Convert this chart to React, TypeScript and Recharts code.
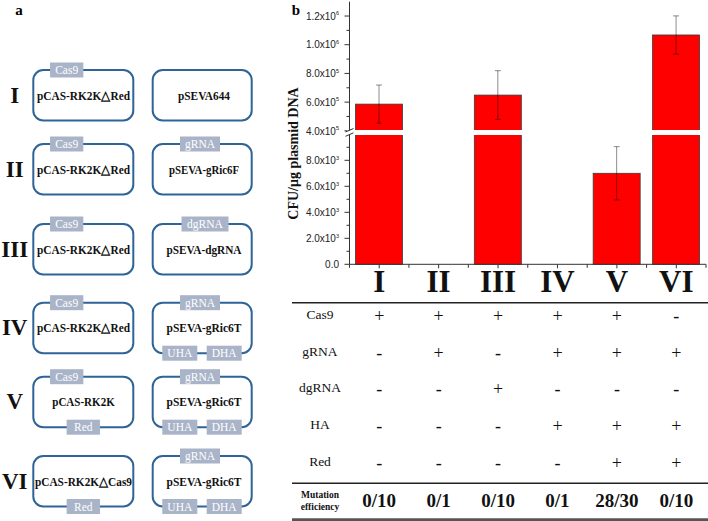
import React from 'react';
import { BarChart, Bar, XAxis, YAxis, ErrorBar } from 'recharts';

const SERIF = '"Liberation Serif", "Times New Roman", serif';
const SANS = '"Liberation Sans", Arial, sans-serif';

// ---- panel b data ----
const categories = ['I', 'II', 'III', 'IV', 'V', 'VI'];
const cfu = [5.86e5, 0, 6.49e5, 0, 7.0e3, 1.068e6];
const cfuError = [1.33e5, null, 1.7e5, null, 2.05e3, 1.33e5];

const cas9 = ['+', '+', '+', '+', '+', '-'];
const gRNA = ['-', '+', '-', '+', '+', '+'];
const dgRNA = ['-', '-', '+', '-', '-', '-'];
const homologyArms = ['-', '-', '-', '+', '+', '+'];
const redGenes = ['-', '-', '-', '-', '+', '+'];
const mutationEfficiency = ['0/10', '0/1', '0/10', '0/1', '28/30', '0/10'];

const tableRowNames = ['Cas9', 'gRNA', 'dgRNA', 'HA', 'Red'];
const tableRows = [cas9, gRNA, dgRNA, homologyArms, redGenes];

const yMajorTicks = [0, 2e3, 4e3, 6e3, 8e3, 4e5, 6e5, 8e5, 1e6, 1.2e6];
const yMajorLabels = [
  ['0.0', ''], ['2.0x10', '3'], ['4.0x10', '3'], ['6.0x10', '3'], ['8.0x10', '3'],
  ['4.0x10', '5'], ['6.0x10', '5'], ['8.0x10', '5'], ['1.0x10', '6'], ['1.2x10', '6'],
];
const yMinorTicks = [1e3, 3e3, 5e3, 7e3, 9e3, 5e5, 7e5, 9e5, 1.1e6];

// ---- panel a data ----
const plasmidNumerals = ['I', 'II', 'III', 'IV', 'V', 'VI'];
const leftPlasmids = ['pCAS-RK2K△Red', 'pCAS-RK2K△Red', 'pCAS-RK2K△Red', 'pCAS-RK2K△Red', 'pCAS-RK2K', 'pCAS-RK2K△Cas9'];
const leftTopTags = ['Cas9', 'Cas9', 'Cas9', 'Cas9', 'Cas9', null];
const leftBottomTags = [null, null, null, null, 'Red', 'Red'];
const rightPlasmids = ['pSEVA644', 'pSEVA-gRic6F', 'pSEVA-dgRNA', 'pSEVA-gRic6T', 'pSEVA-gRic6T', 'pSEVA-gRic6T'];
const rightTopTags = [null, 'gRNA', 'dgRNA', 'gRNA', 'gRNA', 'gRNA'];
const rightHomology = [false, false, false, true, true, true];

// rendered widths of the plasmid names in the figure
const labelWidths: Record<string, number> = {
  'pCAS-RK2K△Red': 93,
  'pCAS-RK2K': 62.5,
  'pCAS-RK2K△Cas9': 97,
  pSEVA644: 52,
  'pSEVA-gRic6F': 70,
  'pSEVA-dgRNA': 75,
  'pSEVA-gRic6T': 75,
};

// ---- broken y scale ----
const LOWER_MAX = 1e4;
const UPPER_MIN = 4e5;
const UPPER_MAX = 1.3e6;
const LOWER_SPAN = 130;
const UPPER_START = 133.5;
const UPPER_SPAN = 129.1;
const GAP_LO = 129.3;
const GAP_HI = 134.3;
const Y_MAX = UPPER_START + UPPER_SPAN;

function toDisplay(v: number) {
  if (v <= LOWER_MAX) return (v / LOWER_MAX) * LOWER_SPAN;
  return UPPER_START + ((v - UPPER_MIN) / (UPPER_MAX - UPPER_MIN)) * UPPER_SPAN;
}

const chartData = categories.map((name, i) => {
  const v = cfu[i];
  const e = cfuError[i];
  const d = toDisplay(v);
  return {
    name,
    display: d,
    err: e == null ? null : [d - toDisplay(v - e), toDisplay(v + e) - d],
  };
});

const majorDisplay = yMajorTicks.map(toDisplay);
const yTicks = [...majorDisplay, ...yMinorTicks.map(toDisplay)].sort((a, b) => a - b);

const CHART_LEFT = 260;
const CHART_W = 448;
const CHART_H = 521;
const Y_AXIS_W = 89.5;
const X_AXIS_H = 256.7;
const MARGIN = { top: 1.7, right: 2, left: 0, bottom: 0 };
const BAND = (CHART_W - Y_AXIS_W - MARGIN.right) / categories.length;

function BrokenBar(props: any) {
  const { x, y, width, height, payload } = props;
  if (!height || height <= 0) return null;
  const ppu = height / payload.display;
  const bottom = y + height;
  return (
    <g>
      <rect x={x} y={y} width={width} height={height} fill="#ff0000" stroke="#3a3a3a" strokeWidth={0.8} />
      {payload.display > GAP_HI && (
        <rect x={x - 1} y={bottom - GAP_HI * ppu} width={width + 2} height={(GAP_HI - GAP_LO) * ppu} fill="#ffffff" />
      )}
    </g>
  );
}

function YTick(props: any) {
  const { x, y, payload } = props;
  const idx = majorDisplay.findIndex((d) => Math.abs(d - payload.value) < 0.01);
  const major = idx >= 0;
  return (
    <g>
      <line x1={x - (major ? 5 : 3)} x2={x} y1={y} y2={y} stroke="#333" strokeWidth={1} />
      {major && (
        <text x={x - 10.5} y={y + 3.7} textAnchor="end" fontFamily={SANS} fontSize={10} fill="#222">
          {yMajorLabels[idx][0]}
          {yMajorLabels[idx][1] && (
            <tspan dy={-4.5} fontSize={5.5}>{yMajorLabels[idx][1]}</tspan>
          )}
        </text>
      )}
    </g>
  );
}

const rowBaselines = [319, 355.5, 392, 429, 465.5];

function ColumnTick(props: any) {
  const { x, y, payload } = props;
  const i = categories.indexOf(payload.value);
  return (
    <g>
      <line x1={x} x2={x} y1={y} y2={y + 4} stroke="#333" />
      <line x1={x + BAND / 2} x2={x + BAND / 2} y1={y} y2={y + 3.5} stroke="#333" />
      {i === 0 && <line x1={x - BAND / 2} x2={x - BAND / 2} y1={y} y2={y + 3.5} stroke="#333" />}
      <text x={x} y={291.7} textAnchor="middle" fontFamily={SERIF} fontWeight="bold" fontSize={31} fill="#111">
        {payload.value}
      </text>
      {tableRows.map((row, r) => (
        <text key={r} x={x} y={rowBaselines[r] + 3} textAnchor="middle" fontFamily={SERIF} fontSize={18} fill="#111">
          {row[i]}
        </text>
      ))}
      <text x={x} y={506.7} textAnchor="middle" fontFamily={SERIF} fontWeight="bold" fontSize={19} fill="#111">
        {mutationEfficiency[i]}
      </text>
    </g>
  );
}

const BOX_TOPS = [70, 144, 224, 302.7, 376.7, 456];
const BOX_H = 50.5;
const TAG_FILL = '#a9b4c8';
const BOX_STROKE = '#2f6497';

function Tag({ cx, cy, w, label }: { cx: number; cy: number; w: number; label: string }) {
  return (
    <g>
      <rect x={cx - w / 2} y={cy - 7.5} width={w} height={15} fill={TAG_FILL} />
      <text x={cx} y={cy + 4} textAnchor="middle" fontFamily={SERIF} fontSize={11.5} fill="#ffffff">
        {label}
      </text>
    </g>
  );
}

function PlasmidName({ x, y, label }: { x: number; y: number; label: string }) {
  const w = labelWidths[label];
  return (
    <text
      x={x - w / 2}
      y={y}
      textLength={w}
      lengthAdjust="spacingAndGlyphs"
      fontFamily={SERIF}
      fontWeight="bold"
      fontSize={12.5}
      fill="#111"
    >
      {label}
    </text>
  );
}

function PanelA() {
  return (
    <g>
      <text x={19} y={15} textAnchor="middle" fontFamily={SERIF} fontWeight="bold" fontSize={15}>a</text>
      {plasmidNumerals.map((num, i) => {
        const top = BOX_TOPS[i];
        const mid = top + BOX_H / 2;
        const bot = top + BOX_H;
        return (
          <g key={num}>
            <text x={14.7} y={mid + 7.5} textAnchor="middle" fontFamily={SERIF} fontWeight="bold" fontSize={23} fill="#111">
              {num}
            </text>
            <rect x={33.3} y={top} width={100} height={BOX_H} rx={10} fill="none" stroke={BOX_STROKE} strokeWidth={2} />
            <rect x={152.7} y={top} width={99} height={BOX_H} rx={10} fill="none" stroke={BOX_STROKE} strokeWidth={2} />
            {leftTopTags[i] && <Tag cx={66.7} cy={top} w={33.3} label={leftTopTags[i] as string} />}
            {leftBottomTags[i] && <Tag cx={83.3} cy={bot} w={33.3} label={leftBottomTags[i] as string} />}
            {rightTopTags[i] && (
              <Tag cx={rightTopTags[i] === 'dgRNA' ? 205 : 200} cy={top} w={rightTopTags[i] === 'dgRNA' ? 47 : 40} label={rightTopTags[i] as string} />
            )}
            {rightHomology[i] && (
              <>
                <Tag cx={179.8} cy={bot} w={35} label="UHA" />
                <Tag cx={224.2} cy={bot} w={35} label="DHA" />
              </>
            )}
            <PlasmidName x={83.5} y={mid + 4.5} label={leftPlasmids[i]} />
            <PlasmidName x={204} y={mid + 4.5} label={rightPlasmids[i]} />
          </g>
        );
      })}
    </g>
  );
}

function Overlay() {
  return (
    <svg width={708} height={521} style={{ position: 'absolute', left: 0, top: 0, pointerEvents: 'none' }}>
      <PanelA />
      <text x={296} y={15} textAnchor="middle" fontFamily={SERIF} fontWeight="bold" fontSize={15}>b</text>
      <text
        x={293}
        y={153.5}
        transform="rotate(-90 293 153.5)"
        textAnchor="middle"
        dominantBaseline="central"
        fontFamily={SERIF}
        fontWeight="bold"
        fontSize={14}
        fill="#111"
      >
        CFU/μg plasmid DNA
      </text>
      {/* axis break */}
      <rect x={347} y={130.3} width={6} height={4.5} fill="#ffffff" />
      <line x1={345.5} y1={132} x2={353.5} y2={128.5} stroke="#333" strokeWidth={1} />
      <line x1={345.5} y1={136.3} x2={353.5} y2={132.8} stroke="#333" strokeWidth={1} />
      {/* table */}
      <line x1={292} x2={708} y1={302.8} y2={302.8} stroke="#222" strokeWidth={1.5} />
      <line x1={292} x2={708} y1={483.3} y2={483.3} stroke="#222" strokeWidth={1.5} />
      <line x1={292} x2={708} y1={519.7} y2={519.7} stroke="#555" strokeWidth={3} />
      {tableRowNames.map((name, r) => (
        <text key={name} x={320} y={rowBaselines[r]} textAnchor="middle" fontFamily={SERIF} fontSize={13.5} fill="#111">
          {name}
        </text>
      ))}
      <text x={320} y={498} textAnchor="middle" fontFamily={SERIF} fontWeight="bold" fontSize={9.5} fill="#111">Mutation</text>
      <text x={320} y={509.5} textAnchor="middle" fontFamily={SERIF} fontWeight="bold" fontSize={9.5} fill="#111">efficiency</text>
    </svg>
  );
}

export default function App() {
  return (
    <div style={{ position: 'absolute', left: 0, top: 0, width: 708, height: 521, background: '#fff' }}>
      <div style={{ position: 'absolute', left: CHART_LEFT, top: 0 }}>
        <BarChart width={CHART_W} height={CHART_H} data={chartData} margin={MARGIN}>
          <XAxis
            dataKey="name"
            height={X_AXIS_H}
            tickSize={0}
            tickMargin={0}
            interval={0}
            axisLine={{ stroke: '#333' }}
            tickLine={false}
            tick={ColumnTick}
          />
          <YAxis
            type="number"
            domain={[0, Y_MAX]}
            ticks={yTicks}
            interval={0}
            width={Y_AXIS_W}
            tickSize={0}
            tickMargin={0}
            axisLine={{ stroke: '#333' }}
            tickLine={false}
            tick={YTick}
          />
          <Bar dataKey="display" barSize={47} shape={BrokenBar} isAnimationActive={false}>
            <ErrorBar dataKey="err" width={3} stroke="rgba(0,0,0,0.45)" strokeWidth={1} direction="y" />
          </Bar>
        </BarChart>
      </div>
      <Overlay />
    </div>
  );
}
